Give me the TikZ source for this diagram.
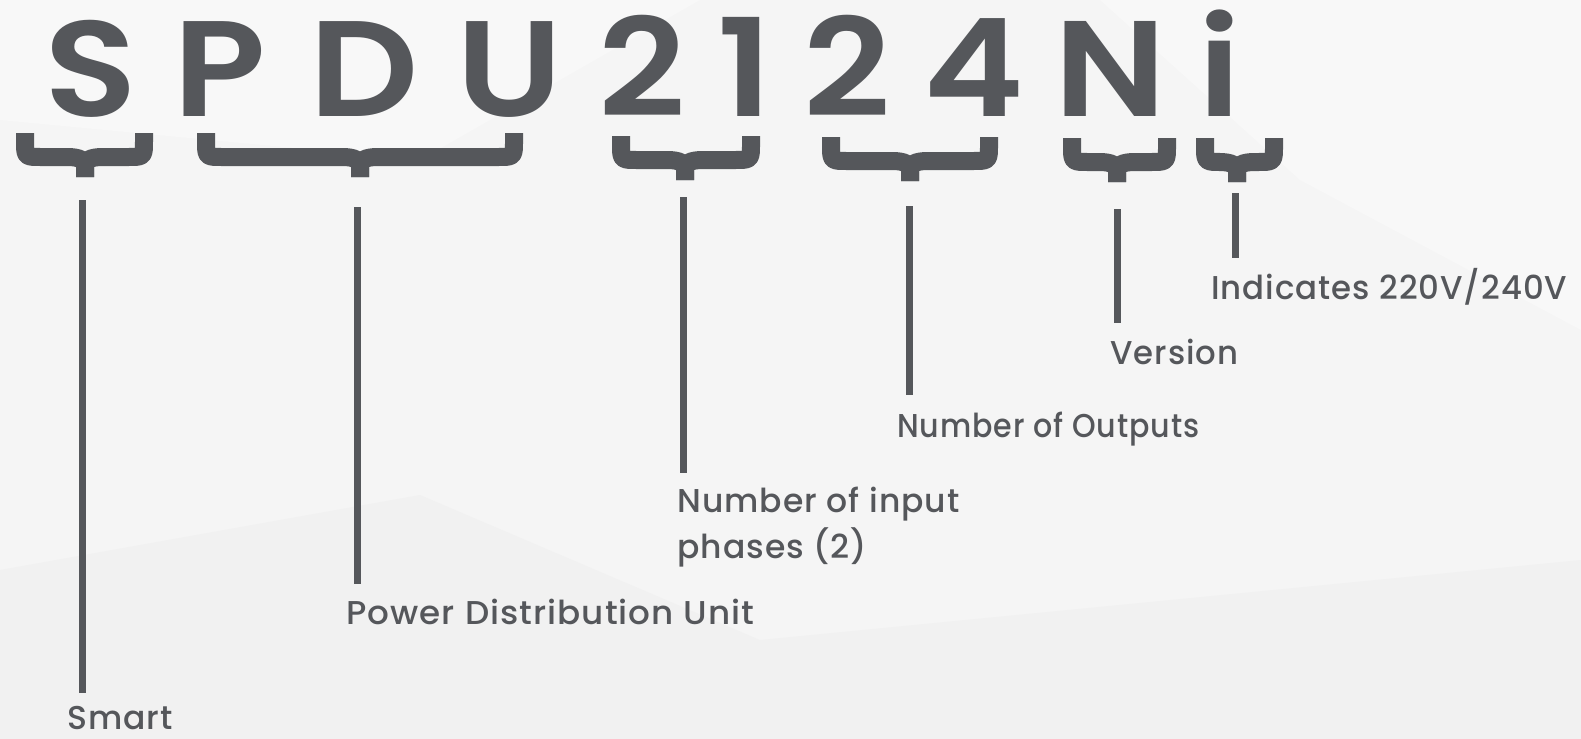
\documentclass[tikz,border=0pt]{standalone}
\usepackage{fontspec}
\usepackage{graphicx}
\setmainfont{Poppins}
\newfontfamily\codefont{Poppins SemiBold}[FakeStretch=1.12]
\newfontfamily\labelfont{Poppins Medium}[LetterSpace=3]
\newcommand\fitto[2]{\resizebox{#1}{\height}{#2}}
\definecolor{ink}{HTML}{55575B}
\definecolor{bg}{HTML}{F5F5F5}
\definecolor{facet}{HTML}{F1F1F1}
\definecolor{facetb}{HTML}{F8F8F8}
\tikzset{
  big/.style={font=\fontsize{68}{68}\selectfont\codefont, text=ink, inner sep=0pt, anchor=base},
  lab/.style={font=\fontsize{16.5}{23}\selectfont\labelfont, text=ink, inner sep=0pt, anchor=base west, align=left},
  lead/.style={draw=ink, line width=3.5pt},
  brc/.style={draw=ink, line width=9pt, line join=round},
}
\newcommand\mybrace[4]{% x1, x2, tip, top
  \draw[brc] (#1+9,#4) -- (#1+9,#4+8) .. controls (#1+9,#4+24) .. (#1+25,#4+24)
     -- (#3-18,#4+24) .. controls (#3-5,#4+24) and (#3,#4+27) .. (#3,#4+34) -- (#3,#4+44);
  \draw[brc] (#2-9,#4) -- (#2-9,#4+8) .. controls (#2-9,#4+24) .. (#2-25,#4+24)
     -- (#3+18,#4+24) .. controls (#3+5,#4+24) and (#3,#4+27) .. (#3,#4+34) -- (#3,#4+44);
}
\begin{document}
\begin{tikzpicture}[x=0.5pt,y=-0.5pt]
  % background
  \fill[bg] (0,0) rectangle (1581,739);
  \fill[facet] (0,570) -- (420,495) -- (760,640) -- (1581,560) -- (1581,739) -- (0,739) -- cycle;
  \fill[facetb] (0,0) -- (700,0) -- (420,160) -- (0,120) -- cycle;
  \fill[facetb] (1100,0) -- (1581,0) -- (1581,330) -- (1300,180) -- cycle;
  \useasboundingbox (0,0) rectangle (1581,739);

  % model code letters
  \node[big] (cS)  at (91,116)   {S};
  \node[big] (cP)  at (220,116)  {P};
  \node[big] (cD)  at (364,116)  {D};
  \node[big] (cU)  at (510,116)  {U};
  \node[big] (c2a) at (642,116)  {2};
  \node[big] (c1)  at (745,116)  {1};
  \node[big] (c2b) at (847,116)  {2};
  \node[big] (c4)  at (974,116)  {4};
  \node[big] (cN)  at (1110,116) {N};
  \node[big] (ci)  at (1220,116) {i};

  % braces
  \mybrace{16}{153}{85}{133}
  \mybrace{197}{523}{360}{133}
  \mybrace{612}{760}{685}{136}
  \mybrace{822}{998}{910}{137}
  \mybrace{1063}{1176}{1117}{138}
  \mybrace{1196}{1283}{1237}{138}

  % leader end points
  \coordinate (s1) at (82,200);   \coordinate (e1) at (82,693);
  \coordinate (s2) at (357,207);  \coordinate (e2) at (357,584);
  \coordinate (s3) at (683,197);  \coordinate (e3) at (683,473);
  \coordinate (s4) at (909,206);  \coordinate (e4) at (909,395);
  \coordinate (s5) at (1117,209); \coordinate (e5) at (1117,323);
  \coordinate (s6) at (1235,193); \coordinate (e6) at (1235,258);

  \draw[lead] (s1) -- (e1);
  \draw[lead] (s2) -- (e2);
  \draw[lead] (s3) -- (e3);
  \draw[lead] (s4) -- (e4);
  \draw[lead] (s5) -- (e5);
  \draw[lead] (s6) -- (e6);

  % labels
  \node[lab] (l1) at (67,729)   {Smart};
  \node[lab] (l2) at (346,624)  {\fitto{204pt}{Power Distribution Unit}};
  \node[lab, anchor=north west] (l3) at (677,487) {Number of input\\phases (2)};
  \node[lab] (l4) at (897,437)  {\fitto{151pt}{Number of Outputs}};
  \node[lab] (l5) at (1110,364) {\fitto{64pt}{Version}};
  \node[lab] (l6) at (1211,299) {\fitto{178pt}{Indicates 220V/240V}};
\end{tikzpicture}
\end{document}
